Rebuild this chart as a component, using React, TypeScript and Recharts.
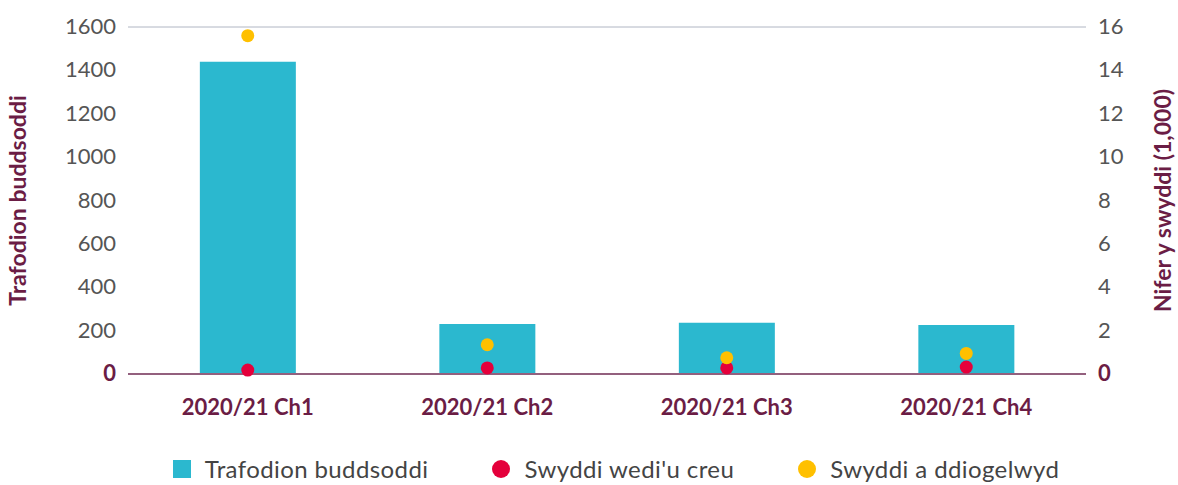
import { ComposedChart, Bar, Line, XAxis, YAxis, CartesianGrid, Legend } from "recharts";

const quarters = ["2020/21 Ch1", "2020/21 Ch2", "2020/21 Ch3", "2020/21 Ch4"];
const investments = [1440, 230, 236, 226];
const jobsCreated = [0.18, 0.28, 0.28, 0.32];
const jobsSafeguarded = [15.6, 1.35, 0.75, 0.95];
const leftTicks = [0, 200, 400, 600, 800, 1000, 1200, 1400, 1600];
const rightTicks = [0, 2, 4, 6, 8, 10, 12, 14, 16];

const data = quarters.map((q, i) => ({
  q,
  inv: investments[i],
  created: jobsCreated[i],
  safe: jobsSafeguarded[i],
}));

const MAROON = "#6b1d45";
const FONT = "Lato, 'Open Sans', sans-serif";

const legendItems = [
  { label: "Trafodion buddsoddi", color: "#2bb8cf", shape: "square" },
  { label: "Swyddi wedi'u creu", color: "#e4003b", shape: "circle" },
  { label: "Swyddi a ddiogelwyd", color: "#ffc000", shape: "circle" },
];

function NumTick(props: any) {
  const { x, y, payload, textAnchor } = props;
  const zero = payload.value === 0;
  return (
    <text
      x={x}
      y={y}
      dy={7}
      textAnchor={textAnchor}
      fontFamily={FONT}
      fontSize={22}
      fontWeight={zero ? 700 : 400}
      fill={zero ? MAROON : "#555"}
    >
      {payload.value}
    </text>
  );
}

function LegendBox() {
  return (
    <div style={{ display: "flex", justifyContent: "center", gap: 64, fontFamily: FONT, fontSize: 24, letterSpacing: 0.4, color: "#444", paddingLeft: 54 }}>
      {legendItems.map((it) => (
        <div key={it.label} style={{ display: "flex", alignItems: "center", gap: 14 }}>
          <span
            style={{
              width: 18,
              height: 18,
              background: it.color,
              borderRadius: it.shape === "circle" ? "50%" : 0,
              display: "inline-block",
            }}
          />
          <span>{it.label}</span>
        </div>
      ))}
    </div>
  );
}

export default function App() {
  return (
    <div style={{ position: "absolute", left: 0, top: 0 }}>
      <ComposedChart width={1178} height={485} data={data} margin={{ top: 27, right: 0, left: 0, bottom: 20 }} barCategoryGap="30%">
        <CartesianGrid vertical={false} stroke="#b0b6c3" />
        <XAxis
          dataKey="q"
          height={62}
          tickLine={false}
          tickSize={0}
          tickMargin={25}
          stroke="#93607e"
          strokeWidth={2}
          tick={{ fill: MAROON, fontSize: 22, fontWeight: 700, fontFamily: FONT }}
        />
        <YAxis
          yAxisId="left"
          width={128}
          domain={[0, 1600]}
          ticks={leftTicks}
          axisLine={false}
          tickLine={false}
          tickSize={0}
          tickMargin={12}
          tick={<NumTick />}
          label={{
            value: "Trafodion buddsoddi",
            angle: -90,
            position: "insideLeft",
            offset: 18,
            style: { textAnchor: "middle", fill: MAROON, fontSize: 23, fontWeight: 700, fontFamily: FONT },
          }}
        />
        <YAxis
          yAxisId="right"
          orientation="right"
          width={92}
          domain={[0, 16]}
          ticks={rightTicks}
          axisLine={false}
          tickLine={false}
          tickSize={0}
          tickMargin={12}
          tick={<NumTick />}
          label={{
            value: "Nifer y swyddi (1,000)",
            angle: -90,
            position: "insideRight",
            offset: 15,
            style: { textAnchor: "middle", fill: MAROON, fontSize: 23, fontWeight: 700, fontFamily: FONT },
          }}
        />
        <Bar yAxisId="left" dataKey="inv" name="Trafodion buddsoddi" fill="#2bb8cf" isAnimationActive={false} />
        <Line
          yAxisId="right"
          dataKey="created"
          name="Swyddi wedi'u creu"
          stroke="none"
          dot={{ r: 6.5, fill: "#e4003b", stroke: "none" }}
          activeDot={false}
          isAnimationActive={false}
        />
        <Line
          yAxisId="right"
          dataKey="safe"
          name="Swyddi a ddiogelwyd"
          stroke="none"
          dot={{ r: 6.5, fill: "#ffc000", stroke: "none" }}
          activeDot={false}
          isAnimationActive={false}
        />
        <Legend verticalAlign="bottom" wrapperStyle={{ bottom: 2 }} content={() => <LegendBox />} />
      </ComposedChart>
    </div>
  );
}
